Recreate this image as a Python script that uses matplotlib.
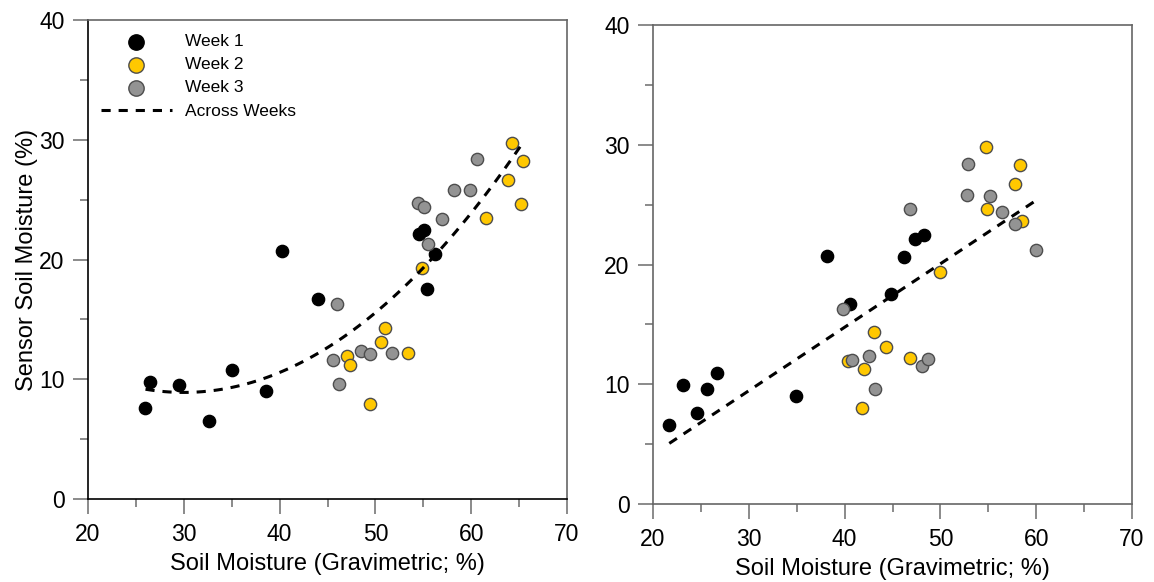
import numpy as np
import matplotlib
matplotlib.use('Agg')
import matplotlib.pyplot as plt
from matplotlib.ticker import MultipleLocator

plt.rcParams['font.family'] = ['Liberation Sans', 'DejaVu Sans']

# Left panel: individual weeks (gravimetric x, sensor y)
w1_x = [25.9, 26.5, 29.5, 32.6, 35.0, 38.6, 40.3, 44.0, 54.5, 55.1, 55.4, 56.2]
w1_y = [7.6, 9.8, 9.5, 6.5, 10.8, 9.0, 20.7, 16.7, 22.1, 22.5, 17.5, 20.5]
w2_x = [47.0, 47.4, 49.4, 50.6, 51.0, 53.4, 54.9, 61.5, 63.8, 64.3, 65.2, 65.4]
w2_y = [11.9, 11.2, 7.9, 13.1, 14.3, 12.2, 19.3, 23.5, 26.6, 29.7, 24.6, 28.2]
w3_x = [45.6, 46.0, 46.2, 48.5, 49.4, 51.7, 54.4, 55.1, 55.5, 56.9, 58.2, 59.9, 60.6]
w3_y = [11.6, 16.3, 9.6, 12.4, 12.1, 12.2, 24.7, 24.4, 21.3, 23.4, 25.8, 25.8, 28.4]

# Right panel
r1_x = [21.7, 23.1, 24.6, 25.6, 26.7, 34.9, 38.2, 40.6, 44.8, 46.2, 47.4, 48.3]
r1_y = [6.6, 9.9, 7.6, 9.6, 10.9, 9.0, 20.7, 16.7, 17.5, 20.6, 22.1, 22.5]
r2_x = [40.4, 41.8, 42.0, 43.1, 44.3, 46.8, 50.0, 54.8, 54.9, 57.8, 58.3, 58.5]
r2_y = [11.9, 8.0, 11.3, 14.4, 13.1, 12.2, 19.4, 29.8, 24.6, 26.7, 28.3, 23.6]
r3_x = [39.8, 40.8, 42.5, 43.2, 46.8, 48.1, 48.7, 52.8, 52.9, 55.2, 56.4, 57.8, 60.0]
r3_y = [16.3, 12.0, 12.4, 9.6, 24.6, 11.5, 12.1, 25.8, 28.4, 25.7, 24.4, 23.4, 21.2]

# Trend lines
left_fit = [0.01665, -0.999, 23.885]   # quadratic
left_fit_range = [26.0, 65.2]
right_fit = [0.530, -6.44]             # linear
right_fit_range = [21.7, 60.0]

weeks = ['Week 1', 'Week 2', 'Week 3']
face_cols = ['black', '#FFC800', '#939393']
edge_cols = ['black', '#4d4d4d', '#4d4d4d']

fig = plt.figure(figsize=(11.54, 5.82), dpi=100)
W, H = 1154, 582
ax1 = fig.add_axes([88 / W, (H - 499) / H, 479 / W, 479 / H])
ax2 = fig.add_axes([653 / W, (H - 504) / H, 479 / W, 479 / H])

dash = (0, (3, 2.6))


def style_axes(ax, spine_dark):
    ax.set_xlim(20, 70)
    ax.set_ylim(0, 40)
    ax.xaxis.set_major_locator(MultipleLocator(10))
    ax.xaxis.set_minor_locator(MultipleLocator(5))
    ax.yaxis.set_major_locator(MultipleLocator(10))
    ax.yaxis.set_minor_locator(MultipleLocator(5))
    ax.tick_params(which='major', direction='out', length=11, width=1.2,
                   color='#777777', labelsize=16.5, pad=6)
    ax.tick_params(which='minor', direction='out', length=6, width=1.2,
                   color='#777777')
    for s in ax.spines.values():
        s.set_linewidth(1.2)
        s.set_color('#666666')
    if spine_dark:
        ax.spines['left'].set_color('black')
        ax.spines['bottom'].set_color('black')
    ax.set_xlabel('Soil Moisture (Gravimetric; %)', fontsize=17)
    ax.xaxis.set_label_coords(0.5, -0.112)
    ax.xaxis.label.set_va('top')


for ax, xs, ys in [(ax1, [w1_x, w2_x, w3_x], [w1_y, w2_y, w3_y]),
                   (ax2, [r1_x, r2_x, r3_x], [r1_y, r2_y, r3_y])]:
    for i in range(3):
        ax.scatter(xs[i], ys[i], s=78, c=face_cols[i], edgecolors=edge_cols[i],
                   linewidths=1.0, label=weeks[i], zorder=2)

xl = np.linspace(left_fit_range[0], left_fit_range[1], 100)
ax1.plot(xl, np.polyval(left_fit, xl), color='black', lw=2.2, ls=dash,
         label='Across Weeks', zorder=3)
xr = np.array(right_fit_range)
ax2.plot(xr, np.polyval(right_fit, xr), color='black', lw=2.2, ls=dash, zorder=3)

style_axes(ax1, True)
style_axes(ax2, False)

ax1.set_ylabel('Sensor Soil Moisture (%)', fontsize=17)
ax1.yaxis.set_label_coords(-0.105, 0.5)

leg = ax1.legend(loc='upper left', bbox_to_anchor=(0.001, 0.996), frameon=False,
                 fontsize=12.5, handlelength=4.1, handletextpad=0.75,
                 labelspacing=0.46, borderpad=0.2, markerscale=1.25)

fig.savefig('out.png', dpi=100)
